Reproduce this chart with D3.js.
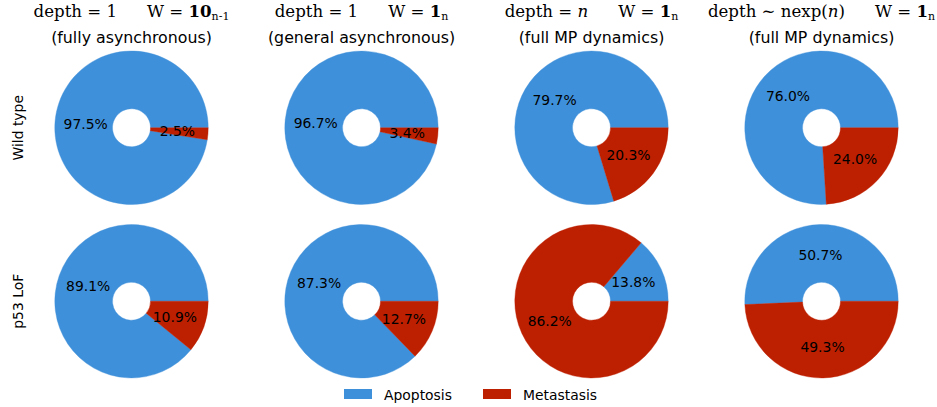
<!DOCTYPE html>
<html lang="en">
<head>
  <meta charset="utf-8">
  <script src="https://d3js.org/d3.v7.min.js"></script>
  <style>
    body { margin: 0; background: #fff; }
    text { font-family: "DejaVu Sans", sans-serif; }
    .math { font-family: "DejaVu Serif", "Liberation Serif", serif; }
  </style>
</head>
<body>
  <svg width=937 height=407></svg>
  <script>
    // chart data
    var categories = ["Apoptosis", "Metastasis"];
    var rowNames = ["Wild type", "p53 LoF"];
    var colNames = ["c1", "c2", "c3", "c4"];
    var subtitles = ["(fully asynchronous)", "(general asynchronous)", "(full MP dynamics)", "(full MP dynamics)"];
    var apoptosis = [[97.5, 96.7, 79.7, 76.0], [89.1, 87.3, 13.8, 50.7]];
    var metastasis = [[2.5, 3.4, 20.3, 24.0], [10.9, 12.7, 86.2, 49.3]];

    // title pieces: [text, style] ; style: "" normal, "b" bold, "i" italic, "s" subscript, "g" = wide gap before
    var titles = [
      [["depth = 1", ""], ["W = ", "g"], ["10", "b"], ["n-1", "s"]],
      [["depth = 1", ""], ["W = ", "g"], ["1", "b"], ["n", "s"]],
      [["depth = ", ""], ["n", "i"], ["W = ", "g"], ["1", "b"], ["n", "s"]],
      [["depth \u223C nexp(", ""], ["n", "i"], [")", ""], ["W = ", "g"], ["1", "b"], ["n", "s"]]
    ];

    var svg = d3.select("svg");
    var x = d3.scaleBand().domain(colNames).range([16.5, 936.5]);
    var y = d3.scaleBand().domain(rowNames).range([41, 388]);
    var color = d3.scaleOrdinal(categories, ["#3f90da", "#bd1f01"]);
    var r = 76.7;

    // matplotlib style: start at 3 o'clock, counter-clockwise
    var pie = d3.pie().sort(null).value(d => d.v)
      .startAngle(Math.PI / 2).endAngle(Math.PI / 2 - 2 * Math.PI);
    var arc = d3.arc().innerRadius(19).outerRadius(r);
    var labelArc = d3.arc().innerRadius(0.6 * r).outerRadius(0.6 * r);

    rowNames.forEach(function (row, ri) {
      colNames.forEach(function (col, ci) {
        var data = [{ k: categories[0], v: apoptosis[ri][ci] }, { k: categories[1], v: metastasis[ri][ci] }];
        var g = svg.append("g")
          .attr("transform", "translate(" + (x(col) + x.bandwidth() / 2) + "," + (y(row) + y.bandwidth() / 2) + ")");
        var arcs = pie(data);
        g.selectAll("path").data(arcs).enter().append("path")
          .attr("d", arc).attr("fill", d => color(d.data.k))
          .attr("stroke", d => color(d.data.k)).attr("stroke-width", 0.4);
        g.selectAll("text").data(arcs).enter().append("text")
          .attr("transform", d => "translate(" + labelArc.centroid(d) + ")")
          .attr("text-anchor", "middle").attr("dy", "0.36em")
          .attr("font-size", 13.9).attr("fill", "#000")
          .text(d => d.data.v.toFixed(1) + "%");
      });
      svg.append("text")
        .attr("transform", "translate(23," + (y(row) + y.bandwidth() / 2) + ") rotate(-90)")
        .attr("text-anchor", "middle").attr("font-size", 13.9)
        .text(row);
    });

    // column titles
    colNames.forEach(function (col, ci) {
      var cx = x(col) + x.bandwidth() / 2;
      var t = svg.append("text").attr("class", "math")
        .attr("x", cx).attr("y", 17).attr("text-anchor", "middle").attr("font-size", 16.6);
      titles[ci].forEach(function (p) {
        var s = t.append("tspan").text(p[0]);
        if (p[1] === "g") s.attr("dx", 30);
        if (p[1] === "b") s.attr("font-weight", "bold");
        if (p[1] === "i") s.attr("font-style", "italic");
        if (p[1] === "s") s.attr("font-size", 11).attr("dy", 3);
      });
      svg.append("text").attr("x", cx).attr("y", 43.3).attr("text-anchor", "middle")
        .attr("font-size", 15.8).text(subtitles[ci]);
    });

    // legend
    var legendX = [344, 483];
    categories.forEach(function (c, i) {
      svg.append("rect").attr("x", legendX[i]).attr("y", 389).attr("width", 28).attr("height", 10)
        .attr("fill", color(c));
      svg.append("text").attr("x", legendX[i] + 40).attr("y", 399.5).attr("font-size", 13.9).text(c);
    });
  </script>
</body>
</html>
